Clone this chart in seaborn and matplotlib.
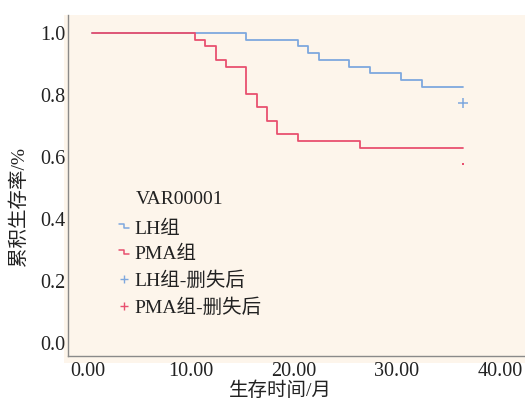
import matplotlib
matplotlib.use("Agg")
import matplotlib.pyplot as plt
import matplotlib.transforms as mtransforms
import pandas as pd
import seaborn as sns
from matplotlib.legend_handler import HandlerBase
from matplotlib.lines import Line2D
from matplotlib.patches import Rectangle

# Kaplan-Meier step data (months, cumulative survival)
lh_time = [0, 15, 20, 21, 22, 25, 27, 30, 32, 36]
lh_surv = [1.0, 0.978, 0.957, 0.935, 0.913, 0.891, 0.870, 0.848, 0.826, 0.826]
pma_time = [0, 10, 11, 12, 13, 15, 16, 17, 18, 20, 26, 36]
pma_surv = [1.0, 0.978, 0.957, 0.913, 0.891, 0.804, 0.761, 0.717, 0.674, 0.652, 0.630, 0.630]

# censored marks (drawn below the curve end, as in the original output)
cens_time = [36, 36]
cens_surv = [0.775, 0.577]

x_ticks = [0, 10, 20, 30, 40]
x_labels = ["0.00", "10.00", "20.00", "30.00", "40.00"]
y_ticks = [0.0, 0.2, 0.4, 0.6, 0.8, 1.0]
y_labels = ["0.0", "0.2", "0.4", "0.6", "0.8", "1.0"]

blue = "#7ea8de"
red = "#e8506f"
bg = "#fdf5eb"

sns.set_style("white")
plt.rcParams["font.family"] = ["Liberation Serif", "Noto Sans CJK SC"]

df_lh = pd.DataFrame({"time": lh_time, "surv": lh_surv})
df_pma = pd.DataFrame({"time": pma_time, "surv": pma_surv})

fig = plt.figure(figsize=(5.25, 4), dpi=100)
# beige panel behind the axes
fig.patches.append(Rectangle((64 / 525, 37 / 400), 461 / 525, 348 / 400,
                             transform=fig.transFigure, facecolor=bg,
                             edgecolor="none", zorder=-10))
ax = fig.add_axes([68 / 525, 44 / 400, 457 / 525, 341 / 400])
ax.set_facecolor(bg)
ax.set_zorder(1)

sns.lineplot(data=df_lh, x="time", y="surv", ax=ax, color=blue, lw=1.3,
             drawstyle="steps-post", estimator=None, sort=False)
sns.lineplot(data=df_pma, x="time", y="surv", ax=ax, color=red, lw=1.3,
             drawstyle="steps-post", estimator=None, sort=False)
ax.plot(cens_time[0], cens_surv[0], marker="+", color=blue, ms=7, mew=1.1, ls="none")
ax.plot(cens_time[1], cens_surv[1], marker="s", color=red, ms=2, mew=0, ls="none")

ax.set_xlim(-2.33, 42.04)
ax.set_ylim(-0.042, 1.058)
ax.set_xticks(x_ticks)
ax.set_xticklabels(x_labels)
ax.set_yticks(y_ticks)
ax.set_yticklabels(y_labels)
ax.tick_params(length=0, labelsize=14.5, colors="#222222")
ax.tick_params(axis="x", pad=4)
ax.tick_params(axis="y", pad=2)
shift = mtransforms.ScaledTranslation(-4 / 100, 0, fig.dpi_scale_trans)
for lab in ax.get_xticklabels():
    lab.set_transform(lab.get_transform() + shift)
ax.set_xlabel("")
ax.set_ylabel("")
for s in ["top", "right"]:
    ax.spines[s].set_visible(False)
for s in ["left", "bottom"]:
    ax.spines[s].set_color("#8a8a8a")
    ax.spines[s].set_linewidth(1.0)

fig.text(19 / 525, 1 - 207 / 400, "累积生存率/%", rotation=90, ha="center",
         va="center", fontsize=14, color="#222222")
fig.text(280 / 525, 1 - 391 / 400, "生存时间/月", ha="center", va="center",
         fontsize=14, color="#222222")


class StepHandler(HandlerBase):
    def create_artists(self, legend, orig_handle, xdescent, ydescent,
                       width, height, fontsize, trans):
        x0 = -xdescent
        xs = [x0, x0 + width * 0.55, x0 + width * 0.55, x0 + width]
        ys = [height * 0.7 - ydescent, height * 0.7 - ydescent,
              height * 0.4 - ydescent, height * 0.4 - ydescent]
        ln = Line2D(xs, ys, color=orig_handle.get_color(), lw=1.1, transform=trans)
        return [ln]


h_lh = Line2D([], [], color=blue)
h_pma = Line2D([], [], color=red)
h_lc = Line2D([], [], color=blue, marker="+", ls="none", ms=6, mew=1.0)
h_pc = Line2D([], [], color=red, marker="+", ls="none", ms=6, mew=1.0)

ax.text((136 - 68) / 457, 1 - (200 - 15) / 341, "VAR00001",
        transform=ax.transAxes, ha="left", va="center", fontsize=14, color="#222222")
ax.legend([h_lh, h_pma, h_lc, h_pc],
          ["LH组", "PMA组", "LH组-删失后", "PMA组-删失后"],
          handler_map={h_lh: StepHandler(), h_pma: StepHandler()},
          loc="upper left", bbox_to_anchor=(51 / 457, 1 - (220 - 15) / 341),
          frameon=False, fontsize=14, handlelength=0.5, handletextpad=0.3,
          labelspacing=0.42, borderaxespad=0, borderpad=0, labelcolor="#222222")

fig.savefig("out.png", dpi=100)
